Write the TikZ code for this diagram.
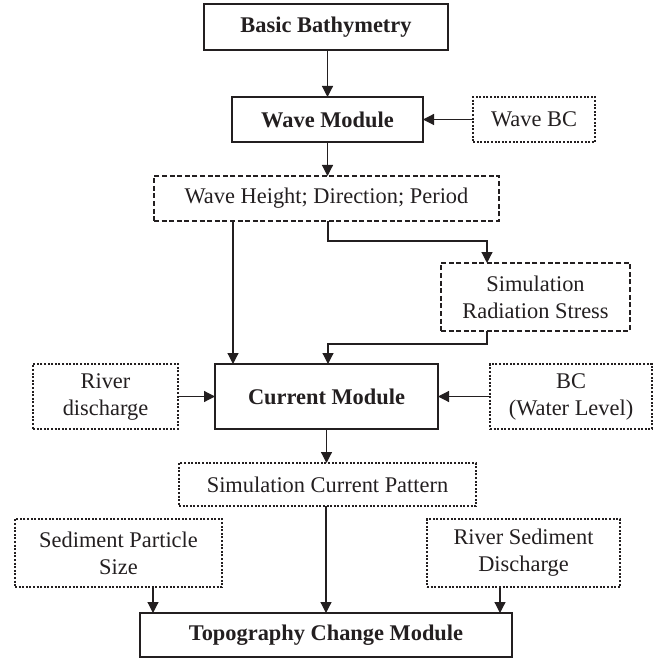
\documentclass[tikz,border=0pt]{standalone}
\usepackage{fontspec}
\setmainfont{Liberation Serif}
\usetikzlibrary{arrows.meta}
\definecolor{ink}{RGB}{35,31,32}
\begin{document}
\begin{tikzpicture}[x=1pt,y=-1pt,
  every node/.style={inner sep=0pt, outer sep=0pt, align=center, text=ink,
    font=\fontsize{22.4}{27}\selectfont},
  solidbox/.style={draw=ink, line width=1.4pt, font=\fontsize{22.4}{27}\selectfont\bfseries},
  dashbox/.style={draw=ink, line width=1.2pt, dash pattern=on 5pt off 2.6pt},
  dotbox/.style={draw=ink, line width=1.2pt, dash pattern=on 2pt off 1.6pt},
  conn/.style={draw=ink, line width=1.2pt, -{Triangle[length=11pt,width=11pt]}}
]
\useasboundingbox (0,0) rectangle (659,660);

\node[solidbox, minimum width=244pt, minimum height=46pt] (bath) at (326,27) {Basic Bathymetry};
\node[solidbox, minimum width=191pt, minimum height=45pt] (wave) at (327.5,119.5) {Wave Module};
\node[dotbox, minimum width=122pt, minimum height=45pt] (wbc) at (534,119.5) {Wave BC};
\node[dashbox, minimum width=345pt, minimum height=45pt] (wh) at (326.5,198.5) {Wave Height; Direction; Period};
\node[dashbox, minimum width=189pt, minimum height=68pt] (rs) at (535.5,297) {Simulation\\Radiation Stress};
\node[dotbox, minimum width=145pt, minimum height=65pt] (river) at (105.5,396.5) {River\\discharge};
\node[solidbox, minimum width=223pt, minimum height=65pt] (cur) at (326.5,396.5) {Current Module};
\node[dotbox, minimum width=162pt, minimum height=65pt] (bc) at (571,396.5) {BC\\(Water Level)};
\node[dotbox, minimum width=297pt, minimum height=43pt] (scp) at (327.5,484.5) {Simulation Current Pattern};
\node[dotbox, minimum width=207pt, minimum height=68pt] (sed) at (118.5,553) {Sediment Particle\\Size};
\node[dotbox, minimum width=193pt, minimum height=68pt] (rsd) at (523.5,553) {River Sediment\\Discharge};
\node[solidbox, minimum width=372pt, minimum height=44pt] (topo) at (326,635) {Topography Change Module};

\coordinate (xa) at (233,0);
\coordinate (xb) at (328,0);
\coordinate (xc) at (487,0);
\coordinate (xd) at (153,0);
\coordinate (xe) at (500,0);
\coordinate (ya) at (0,241);
\coordinate (yb) at (0,344);

\draw[conn] (bath.south -| wave.north) -- (wave.north);
\draw[conn] (wbc.west) -- (wave.east);
\draw[conn] (wave.south) -- (wave.south |- wh.north);
\draw[conn] (wh.south -| xa) -- (cur.north -| xa);
\draw[conn] (wh.south -| xb) -- (xb |- ya) -- (xc |- ya) -- (rs.north -| xc);
\draw[conn] (rs.south -| xc) -- (xc |- yb) -- (xb |- yb) -- (cur.north -| xb);
\draw[conn] (river.east) -- (cur.west);
\draw[conn] (bc.west) -- (cur.east);
\draw[conn] (cur.south) -- (cur.south |- scp.north);
\draw[conn] (scp.south -| topo.north) -- (topo.north);
\draw[conn] (sed.south -| xd) -- (topo.north -| xd);
\draw[conn] (rsd.south -| xe) -- (topo.north -| xe);
\end{tikzpicture}
\end{document}
